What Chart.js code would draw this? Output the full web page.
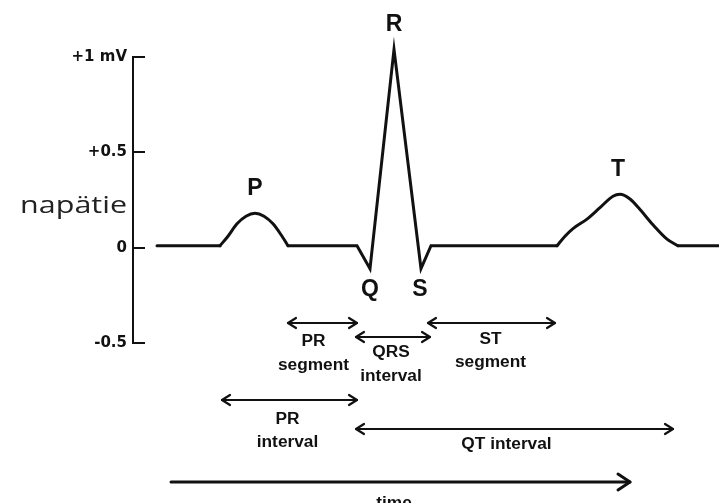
<!DOCTYPE html>
<html>
<head>
<meta charset="utf-8">
<title>EKG</title>
<script src="https://cdn.jsdelivr.net/npm/chart.js@4.4.1/dist/chart.umd.min.js"></script>
<style>
  html, body { margin: 0; padding: 0; background: #fff; }
  #ecgChart { display: block; }
</style>
</head>
<body>
<canvas id="ecgChart" width="719" height="503"></canvas>
<script>
// ECG trace: time in arbitrary units from the voltage axis, voltage in mV
// straight pieces (baseline + QRS), null = gap where the rounded P and T waves are drawn
const traceTime = [24, 87, 121, 155, 224, 237, 261, 288, 298, 424, 485, 545, 586];
const traceMv   = [0.01, 0.01, null, 0.01, 0.01, -0.11, 1.04, -0.11, 0.01, 0.01, null, 0.01, 0.01];

const pWaveTime = [87, 95, 104, 113, 122, 131, 140, 149, 155];
const pWaveMv   = [0.01, 0.06, 0.125, 0.165, 0.18, 0.165, 0.125, 0.06, 0.01];

const tWaveTime = [424, 432, 440, 454, 467, 480, 487, 497, 507, 520, 534, 545];
const tWaveMv   = [0.01, 0.06, 0.1, 0.15, 0.21, 0.27, 0.28, 0.255, 0.2, 0.12, 0.045, 0.01];

// wave letters and the point they sit on
const waveNames = ['P', 'Q', 'R', 'S', 'T'];
const waveTime  = [122, 237, 261, 287, 485];
const waveMv    = [0.18, -0.11, 1.04, -0.11, 0.28];

// intervals marked with arrows under the trace
const intervalNames = [['PR', 'segment'], ['QRS', 'interval'], ['ST', 'segment'], ['PR', 'interval'], ['QT interval']];
const intervalStart = [155, 223, 295, 89, 223];
const intervalEnd   = [224, 297, 422, 224, 540];

const timeStart = 38;
const timeEnd = 497;

const yTickValues = [-0.5, 0, 0.5, 1];
const yTickLabels = ['-0.5', '0', '+0.5', '+1 mV'];
const yTitle = 'napätie';
const xTitle = 'time';

const INK = '#111';

function toPoints(xs, ys) {
    return xs.map((t, i) => ({ x: t, y: ys[i] }));
}

function arrowHead(ctx, x, y, dir) {
    ctx.beginPath();
    ctx.moveTo(x - dir * 8, y - 5);
    ctx.lineTo(x, y);
    ctx.lineTo(x - dir * 8, y + 5);
    ctx.stroke();
}

function stretchedText(ctx, text, x, y, sx) {
    ctx.save();
    ctx.translate(x, y);
    ctx.scale(sx, 1);
    ctx.fillText(text, 0, 0);
    ctx.restore();
}

// letters, interval arrows, time arrow and the voltage label
const ecgLabels = {
    id: 'ecgLabels',
    afterDraw(chart) {
        const { ctx, scales: { x, y } } = chart;
        ctx.save();
        ctx.fillStyle = INK;
        ctx.strokeStyle = INK;
        ctx.lineCap = 'round';
        ctx.lineJoin = 'round';

        // P Q R S T
        ctx.font = 'bold 23px "Liberation Sans", Arial, sans-serif';
        ctx.textAlign = 'center';
        ctx.textBaseline = 'middle';
        waveNames.forEach((name, i) => {
            const px = x.getPixelForValue(waveTime[i]);
            const py = y.getPixelForValue(waveMv[i]);
            ctx.fillText(name, px, py + (waveMv[i] < 0 ? 21 : -25));
        });

        // interval arrows
        const arrowRow = [323, 337, 323, 400, 429];
        const textRows = [[342, 366], [353, 377], [340, 363], [420, 443], [445]];
        const textShift = [-9, -2, -1, -2, -8];
        ctx.lineWidth = 2.2;
        ctx.font = 'bold 16px "Liberation Sans", Arial, sans-serif';
        intervalNames.forEach((lines, i) => {
            const x1 = x.getPixelForValue(intervalStart[i]);
            const x2 = x.getPixelForValue(intervalEnd[i]);
            const ay = arrowRow[i];
            ctx.beginPath();
            ctx.moveTo(x1, ay);
            ctx.lineTo(x2, ay);
            ctx.stroke();
            arrowHead(ctx, x1, ay, -1);
            arrowHead(ctx, x2, ay, 1);
            const cx = (x1 + x2) / 2 + textShift[i];
            lines.forEach((line, j) => stretchedText(ctx, line, cx, textRows[i][j], 1.08));
        });

        // time arrow
        const tx1 = x.getPixelForValue(timeStart);
        const tx2 = x.getPixelForValue(timeEnd);
        ctx.lineWidth = 3;
        ctx.beginPath();
        ctx.moveTo(tx1, 482);
        ctx.lineTo(tx2, 482);
        ctx.stroke();
        ctx.lineWidth = 3;
        ctx.beginPath();
        ctx.moveTo(tx2 - 12, 474);
        ctx.lineTo(tx2, 482);
        ctx.lineTo(tx2 - 12, 490);
        ctx.stroke();
        ctx.textBaseline = 'alphabetic';
        stretchedText(ctx, xTitle, x.getPixelForValue(261), 508, 1.08);

        // voltage label
        ctx.fillStyle = '#222';
        ctx.font = '24px "Open Sans", sans-serif';
        ctx.textAlign = 'right';
        stretchedText(ctx, yTitle, 127, 213, 1.27);

        ctx.restore();
    }
};

const lineStyle = {
    borderColor: INK,
    borderWidth: 3,
    pointRadius: 0,
    fill: false,
    clip: false,
    borderCapStyle: 'round'
};

new Chart(document.getElementById('ecgChart'), {
    type: 'line',
    data: {
        datasets: [
            Object.assign({ label: 'trace', data: toPoints(traceTime, traceMv), tension: 0, spanGaps: false, borderJoinStyle: 'miter' }, lineStyle),
            Object.assign({ label: 'P', data: toPoints(pWaveTime, pWaveMv), cubicInterpolationMode: 'monotone' }, lineStyle),
            Object.assign({ label: 'T', data: toPoints(tWaveTime, tWaveMv), cubicInterpolationMode: 'monotone' }, lineStyle)
        ]
    },
    options: {
        responsive: false,
        animation: false,
        events: [],
        layout: { padding: { left: 0, right: 0, top: 57, bottom: 160 } },
        plugins: {
            legend: { display: false },
            tooltip: { enabled: false }
        },
        scales: {
            x: {
                type: 'linear',
                display: false,
                min: 0,
                max: 586
            },
            y: {
                type: 'linear',
                min: -0.5,
                max: 1,
                afterFit(scale) { scale.width = 133; },
                afterBuildTicks(scale) { scale.ticks = yTickValues.map(v => ({ value: v })); },
                border: { display: true, color: INK, width: 2 },
                grid: { drawOnChartArea: false, drawTicks: true, tickLength: -12, color: INK, lineWidth: 2 },
                ticks: {
                    padding: 18,
                    color: INK,
                    font: { family: '"DejaVu Sans", sans-serif', size: 15, weight: 'bold' },
                    callback: (v) => yTickLabels[yTickValues.indexOf(v)]
                }
            }
        }
    },
    plugins: [ecgLabels]
});
</script>
</body>
</html>
